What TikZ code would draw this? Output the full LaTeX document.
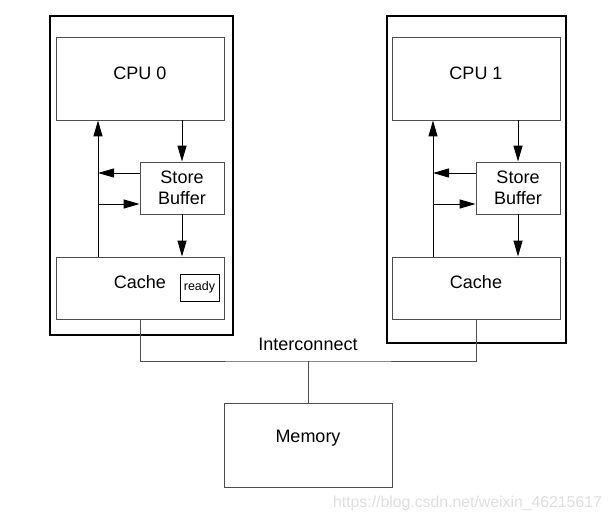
\documentclass[tikz,border=0pt]{standalone}
\usepackage{fontspec}
\setmainfont{Liberation Sans}
\usetikzlibrary{arrows.meta}
\begin{document}
\begin{tikzpicture}[x=1pt,y=-1pt,
  outer/.style={draw=black,line width=2.4pt},
  box/.style={draw=black!70,line width=0.9pt,inner sep=0pt,minimum width=168pt,align=center,font=\fontsize{18}{21}\selectfont},
  sbbox/.style={box,minimum width=84pt,minimum height=52pt},
  lbl/.style={inner sep=0pt,font=\fontsize{18}{21}\selectfont},
  arr/.style={line width=1pt,-{Triangle[length=16pt,width=9pt]}},
  wire/.style={draw=black!70,line width=1pt}]
\useasboundingbox (0,0) rectangle (613,522);
% outer CPU boxes
\draw[outer] (50,16) rectangle (233,335);
\draw[outer] (387,16) rectangle (566,343);
% CPU 0 side
\node[box,minimum height=83pt] (cpu0) at (140,78.5) {};
\node[lbl] (cpu0t) at (140,73) {CPU 0};
\node[sbbox] (sb0) at (182,188) {Store\\Buffer};
\node[box,minimum height=62pt] (cache0) at (140,288) {};
\node[lbl] (cache0t) at (140,282) {Cache};
\node[draw=black,line width=0.8pt,minimum width=39pt,minimum height=27pt,inner sep=0pt,font=\fontsize{12.5}{14}\selectfont] (ready) at (199.5,287.5) {ready};
% CPU 1 side
\node[box,minimum height=83pt] (cpu1) at (476,78.5) {};
\node[lbl] (cpu1t) at (476,73) {CPU 1};
\node[sbbox] (sb1) at (518,188) {Store\\Buffer};
\node[box,minimum height=62pt] (cache1) at (476,288) {};
\node[lbl] (cache1t) at (476,282) {Cache};
% memory
\node[box,minimum height=84pt] (mem) at (308,445) {};
\node[lbl] (memt) at (308,438) {Memory};
\node[lbl] (ict) at (308,344) {Interconnect};
% internal arrows CPU 0
\coordinate (v0) at (98,0);
\draw[arr] (v0 |- cache0.north) -- (v0 |- cpu0.south);
\draw[arr] (cpu0.south -| sb0.north) -- (sb0.north);
\draw[arr] (sb0.south) -- (sb0.south |- cache0.north);
\coordinate (a0) at ([yshift=15pt]sb0.west);
\coordinate (b0) at ([yshift=-16pt]sb0.west);
\draw[arr] (a0) -- (v0 |- a0);
\draw[arr] (v0 |- b0) -- (b0);
% internal arrows CPU 1
\coordinate (v1) at (433,0);
\draw[arr] (v1 |- cache1.north) -- (v1 |- cpu1.south);
\draw[arr] (cpu1.south -| sb1.north) -- (sb1.north);
\draw[arr] (sb1.south) -- (sb1.south |- cache1.north);
\coordinate (a1) at ([yshift=15pt]sb1.west);
\coordinate (b1) at ([yshift=-16pt]sb1.west);
\draw[arr] (a1) -- (v1 |- a1);
\draw[arr] (v1 |- b1) -- (b1);
% interconnect
\coordinate (bus) at (308,361);
\draw[wire] (cache0.south) |- (bus) -| (cache1.south);
\draw[wire] (bus) -- (mem.north);
% watermark
\node[inner sep=0pt,text=black!13,font=\fontsize{15.8}{18}\selectfont] (wm) at (467.5,503) {https://blog.csdn.net/weixin\_46215617};
\end{tikzpicture}
\end{document}
